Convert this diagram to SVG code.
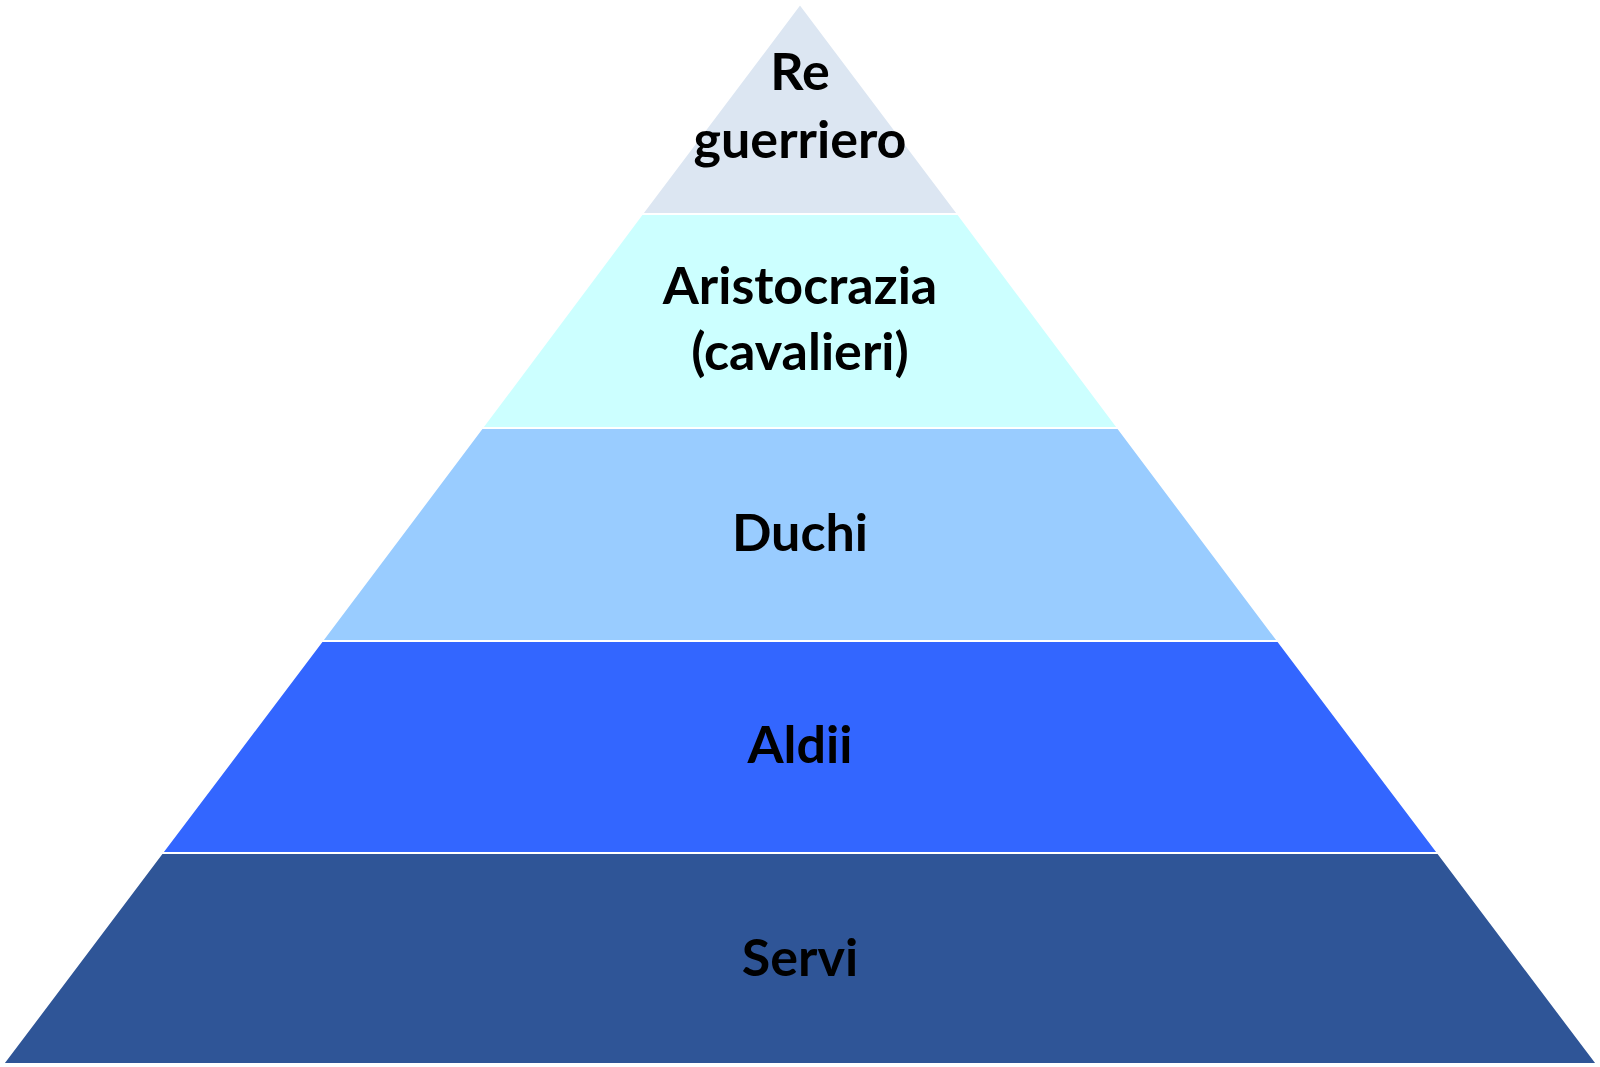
<svg xmlns="http://www.w3.org/2000/svg" width="1600" height="1067" viewBox="0 0 1600 1067">
<style>
text{font-family:"Lato","Liberation Sans",sans-serif;font-weight:bold;font-size:52px;fill:#000;text-anchor:middle}
polygon{stroke:#fff;stroke-width:2}
</style>
<rect width="1600" height="1067" fill="#fff"/>
<g id="re"><polygon points="800,4 958,214 642,214" fill="#DCE6F2"/><text x="800" y="90">Re</text><text x="800" y="158">guerriero</text></g>
<g id="aristocrazia"><polygon points="642,214 958,214 1118,428 482,428" fill="#CCFFFF"/><text x="800" y="304">Aristocrazia</text><text x="800" y="370">(cavalieri)</text></g>
<g id="duchi"><polygon points="482,428 1118,428 1278,641 322,641" fill="#99CCFF"/><text x="800" y="551">Duchi</text></g>
<g id="aldii"><polygon points="322,641 1278,641 1438,853 162,853" fill="#3366FF"/><text x="800" y="763">Aldii</text></g>
<g id="servi"><polygon points="162,853 1438,853 1597,1064 3,1064" fill="#2F5597"/><text x="800" y="976">Servi</text></g>
<g id="connectors"/>
</svg>
